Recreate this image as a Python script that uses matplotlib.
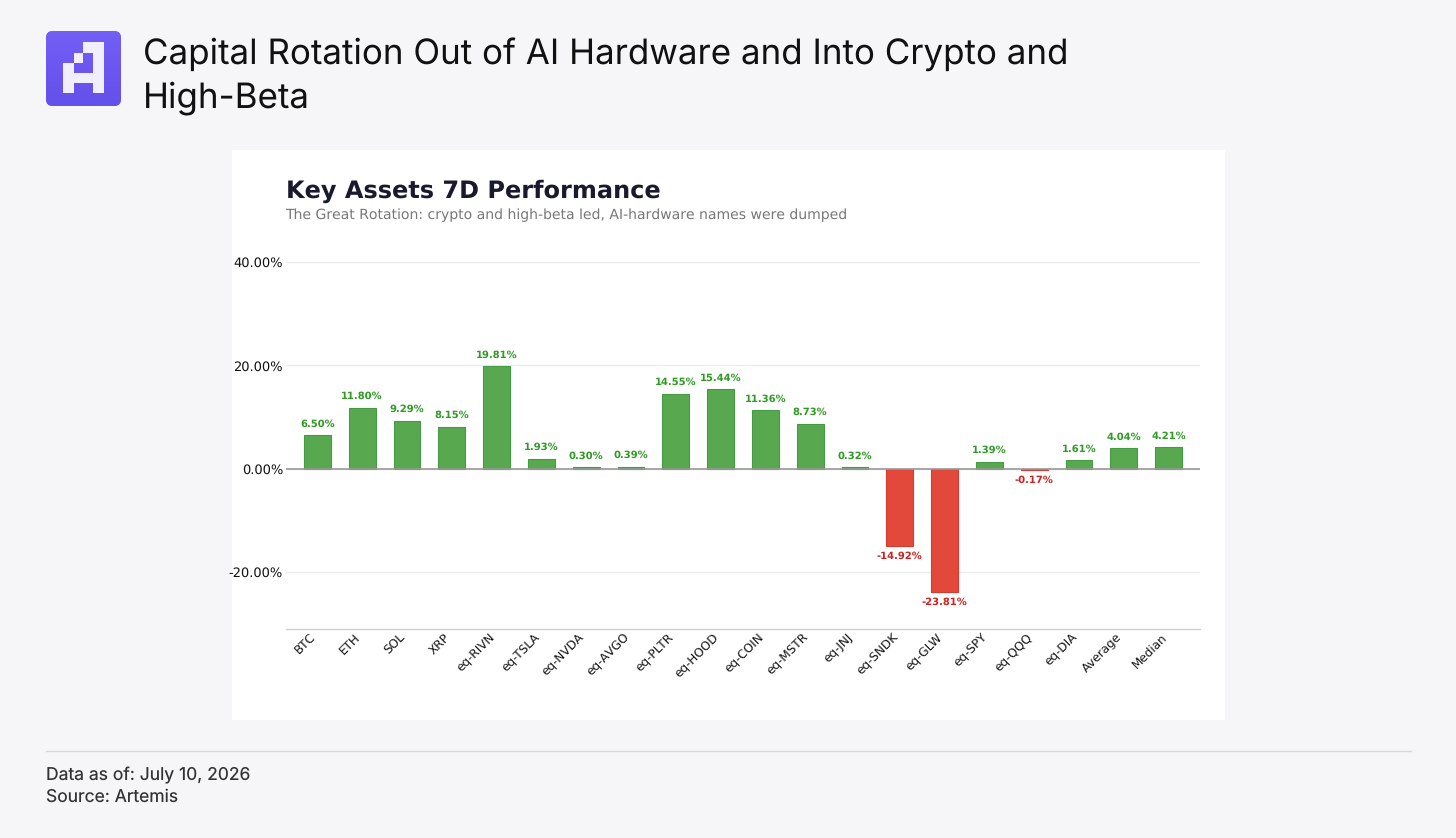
import numpy as np
import matplotlib
matplotlib.use('Agg')
import matplotlib.pyplot as plt
from matplotlib.colors import LinearSegmentedColormap
from matplotlib.patches import FancyBboxPatch, Polygon, Rectangle
from matplotlib.transforms import ScaledTranslation

assets = ['BTC', 'ETH', 'SOL', 'XRP', 'eq-RIVN', 'eq-TSLA', 'eq-NVDA', 'eq-AVGO', 'eq-PLTR', 'eq-HOOD',
          'eq-COIN', 'eq-MSTR', 'eq-JNJ', 'eq-SNDK', 'eq-GLW', 'eq-SPY', 'eq-QQQ', 'eq-DIA', 'Average', 'Median']
perf_7d = [6.50, 11.80, 9.29, 8.15, 19.81, 1.93, 0.30, 0.39, 14.55, 15.44,
           11.36, 8.73, 0.32, -14.92, -23.81, 1.39, -0.17, 1.61, 4.04, 4.21]
y_ticks = [-20, 0, 20, 40]

W, H = 1456, 838
page_bg = '#f6f6f9'
up_fill, up_edge, up_text = '#57a84e', '#459a44', '#2f9a24'
dn_fill, dn_edge, dn_text = '#e2493a', '#d93a2e', '#cc2222'

plt.rcParams['font.family'] = ['DejaVu Sans']
plt.rcParams['text.hinting'] = 'no_hinting'
plt.rcParams['text.hinting_factor'] = 1
fig = plt.figure(figsize=(W / 100, H / 100), dpi=100, facecolor=page_bg)


def px_axes(left, top, right, bottom):
    return fig.add_axes([left / W, 1 - bottom / H, (right - left) / W, (bottom - top) / H])


# page layer in pixel coordinates
page = fig.add_axes([0, 0, 1, 1])
page.axis('off')

page.add_patch(Rectangle((232, 150), 993, 570, facecolor='white', edgecolor='none'))
page.plot([46, 1411], [750.5, 750.5], color='#d8d8dc', linewidth=1)

# logo
box = FancyBboxPatch((46, 31), 75, 75, boxstyle='round,pad=0,rounding_size=7', facecolor='#6a58ee', edgecolor='none')
page.add_patch(box)
img = page.imshow(np.linspace(0, 1, 64)[:, None], extent=(46, 121, 106, 31), aspect='auto', zorder=2,
                  cmap=LinearSegmentedColormap.from_list('logo', ['#735ff5', '#6450ea']))
img.set_clip_path(box)
page.add_patch(Polygon([(83, 42.5), (104, 42.5), (104, 93.5), (93, 93.5), (93, 83), (73.5, 83), (73.5, 93.5), (63, 93.5),
                        (63, 63), (73.5, 63), (73.5, 73), (93, 73), (93, 53), (83, 53), (83, 63), (73.5, 63),
                        (73.5, 53), (83, 53)],
                       closed=True, facecolor='#f1eefd', edgecolor='none', zorder=3))
page.set_xlim(0, W)
page.set_ylim(H, 0)

page.text(143, 54, 'Capital Rotation Out of AI Hardware and Into Crypto and', family='Inter', fontsize=25.18,
          color='#111111', va='center', ha='left')
page.text(143, 98, 'High-Beta', family='Inter', fontsize=25.18, color='#111111', va='center', ha='left')
page.text(46, 775, 'Data as of: July 10, 2026', family='Inter', fontsize=12.6, color='#333333', va='center')
page.text(46, 797, 'Source: Artemis', family='Inter', fontsize=12.6, color='#333333', va='center')

page.text(286, 191, 'Key Assets 7D Performance', fontsize=17.25, fontweight='bold', color='#1a1a2e', va='center')
page.text(285.5, 215.5, 'The Great Rotation: crypto and high-beta led, AI-hardware names were dumped', fontsize=10.03,
          color='#777777', va='center')

# chart
ax = px_axes(286, 262, 1200, 629)
ax.patch.set_alpha(0)
x = np.arange(len(assets))
fills = [up_fill if v >= 0 else dn_fill for v in perf_7d]
edges = [up_edge if v >= 0 else dn_edge for v in perf_7d]
ax.bar(x, perf_7d, width=0.6, color=fills, edgecolor=edges, linewidth=0.8, zorder=3)

for i, v in enumerate(perf_7d):
    ax.annotate(f'{v:.2f}%', (i, v), xytext=(0, 4.6 if v >= 0 else -4), textcoords='offset points',
                ha='center', va='bottom' if v >= 0 else 'top', fontsize=6.9, fontweight='bold',
                color=up_text if v >= 0 else dn_text, zorder=4)

ax.set_xlim(-0.70, 19.70)
ax.set_ylim(-31, 40)
ax.set_yticks(y_ticks)
ax.set_yticklabels([f'{t:.2f}%' for t in y_ticks], fontsize=9.5, color='#111111')
ax.set_xticks(x)
ax.set_xticklabels(assets, rotation=45, ha='right', rotation_mode='anchor', fontsize=8.7, color='#111111')
ax.tick_params(axis='both', length=0)
ax.tick_params(axis='x', pad=3)
ax.tick_params(axis='y', pad=2.2)
# labels sit a little left of their bars in the original
shift = ScaledTranslation(-7.5 / 100, 1.5 / 100, fig.dpi_scale_trans)
for label in ax.get_xticklabels():
    label.set_transform(label.get_transform() + shift)
ax.grid(axis='y', color='#ebebeb', linewidth=1, zorder=0)
ax.set_axisbelow(True)
ax.axhline(0, color='#999999', linewidth=1.2, zorder=5)
for name, spine in ax.spines.items():
    spine.set_visible(name == 'bottom')
ax.spines['bottom'].set_color('#d0d0d0')
ax.spines['bottom'].set_linewidth(1)

fig.savefig('out.png', dpi=100, facecolor=page_bg)
plt.close(fig)
